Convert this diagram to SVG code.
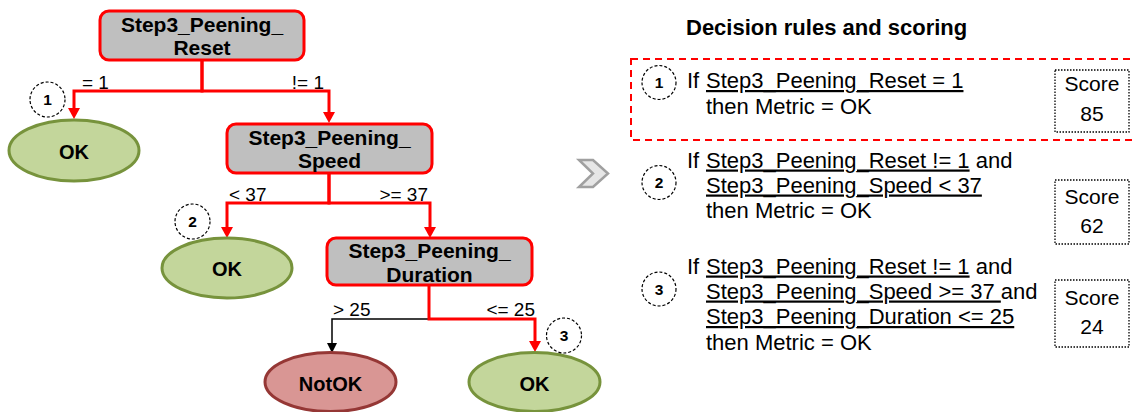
<svg xmlns="http://www.w3.org/2000/svg" width="1134" height="412" viewBox="0 0 1134 412">
  <style>
    .split { fill: #bfbfbf; stroke: #ff0000; stroke-width: 3; }
    .ok { fill: #c3d69b; stroke: #77933c; stroke-width: 3; }
    .notok { fill: #d99694; stroke: #953735; stroke-width: 3; }
    .nodetxt { font-family: "Liberation Sans", Arial, sans-serif; font-weight: bold; font-size: 21px; fill: #000; text-anchor: middle; }
    .leaftxt { font-family: "Liberation Sans", Arial, sans-serif; font-weight: bold; font-size: 20px; fill: #000; text-anchor: middle; }
    .lbl { font-family: "Liberation Sans", Arial, sans-serif; font-size: 19px; fill: #000; }
    .num { fill: #fff; stroke: #000; stroke-width: 1.2; stroke-dasharray: 3 2; }
    .numtxt { font-family: "Liberation Sans", Arial, sans-serif; font-weight: bold; font-size: 15.5px; fill: #000; text-anchor: middle; }
    .red { fill: none; stroke: #ff0000; stroke-width: 3; }
    .blk { fill: none; stroke: #000; stroke-width: 1.5; }
    .title { font-family: "Liberation Sans", Arial, sans-serif; font-weight: bold; font-size: 22px; fill: #000; }
    .rule { font-family: "Liberation Sans", Arial, sans-serif; font-size: 22px; fill: #000; }
    .u { text-decoration: underline; }
    .scorebox { fill: #fff; stroke: #000; stroke-width: 1.3; stroke-dasharray: 1.5 1.5; }
    .score { font-family: "Liberation Sans", Arial, sans-serif; font-size: 21px; fill: #000; text-anchor: middle; }
  </style>
  <defs>
    <marker id="arrRed" markerUnits="userSpaceOnUse" markerWidth="12" markerHeight="14" viewBox="0 -7 12 14" refX="0" refY="0" orient="auto">
      <path d="M0,-6 L11,0 L0,6 z" fill="#ff0000"/>
    </marker>
    <marker id="arrBlk" markerUnits="userSpaceOnUse" markerWidth="11" markerHeight="12" viewBox="0 -6 11 12" refX="0" refY="0" orient="auto">
      <path d="M0,-5 L10,0 L0,5 z" fill="#000"/>
    </marker>
  </defs>

  <!-- tree edges -->
  <g id="connectors">
    <path class="red" d="M202,60 V91 H74 V108" marker-end="url(#arrRed)"/>
    <path class="red" d="M202,60 V91 H329 V112" marker-end="url(#arrRed)"/>
    <path class="red" d="M329,173 V203 H227 V227" marker-end="url(#arrRed)"/>
    <path class="red" d="M329,173 V203 H430 V227" marker-end="url(#arrRed)"/>
    <path class="blk" d="M429,319 H332 V343" marker-end="url(#arrBlk)"/>
    <path class="red" d="M429,285 V319 H535 V341" marker-end="url(#arrRed)"/>
    <text class="lbl" x="82" y="88.5">= 1</text>
    <text class="lbl" x="324" y="88.5" text-anchor="end">!= 1</text>
    <text class="lbl" x="229" y="200.5">&lt; 37</text>
    <text class="lbl" x="428" y="200.5" text-anchor="end">&gt;= 37</text>
    <text class="lbl" x="333" y="316">&gt; 25</text>
    <text class="lbl" x="535" y="316" text-anchor="end">&lt;= 25</text>
  </g>

  <!-- split nodes -->
  <g id="node-reset">
    <rect class="split" x="100" y="11" width="204" height="49" rx="9"/>
    <text class="nodetxt" x="202" y="31.5">Step3_Peening_</text>
    <text class="nodetxt" x="202" y="55">Reset</text>
  </g>
  <g id="node-speed">
    <rect class="split" x="227" y="124" width="205" height="49" rx="9"/>
    <text class="nodetxt" x="329.5" y="144.5">Step3_Peening_</text>
    <text class="nodetxt" x="329.5" y="168">Speed</text>
  </g>
  <g id="node-duration">
    <rect class="split" x="327" y="238" width="205" height="47" rx="9"/>
    <text class="nodetxt" x="429.5" y="257.5">Step3_Peening_</text>
    <text class="nodetxt" x="429.5" y="281.5">Duration</text>
  </g>

  <!-- leaf nodes -->
  <g id="leaf-ok-1">
    <ellipse class="ok" cx="74" cy="150.5" rx="65" ry="30.5"/>
    <text class="leaftxt" x="74" y="158.5">OK</text>
  </g>
  <g id="leaf-ok-2">
    <ellipse class="ok" cx="227" cy="268" rx="65" ry="30"/>
    <text class="leaftxt" x="227" y="276">OK</text>
  </g>
  <g id="leaf-notok">
    <ellipse class="notok" cx="330.5" cy="382" rx="65.5" ry="29.5"/>
    <text class="leaftxt" x="330.5" y="390.5">NotOK</text>
  </g>
  <g id="leaf-ok-3">
    <ellipse class="ok" cx="534.5" cy="382" rx="65.5" ry="29.5"/>
    <text class="leaftxt" x="534.5" y="390.5">OK</text>
  </g>

  <!-- rule markers on the tree -->
  <g id="marker-1">
    <circle class="num" cx="47.5" cy="99.5" r="17.5"/>
    <text class="numtxt" x="47.5" y="105">1</text>
  </g>
  <g id="marker-2">
    <circle class="num" cx="192.5" cy="221.5" r="17.5"/>
    <text class="numtxt" x="192.5" y="227">2</text>
  </g>
  <g id="marker-3">
    <circle class="num" cx="564" cy="335.5" r="17.5"/>
    <text class="numtxt" x="564" y="341">3</text>
  </g>

  <!-- chevron -->
  <g id="chevron">
    <path d="M579,160 H593 L608,173.5 L593,187 H579 L593,173.5 Z" fill="#e6e6e6" stroke="#a0a0a0" stroke-width="2.5" stroke-linejoin="miter"/>
  </g>

  <!-- rules panel -->
  <g id="rules">
    <text class="title" x="686" y="35">Decision rules and scoring</text>

    <g id="rule-1">
      <rect x="631" y="59" width="510" height="81" fill="none" stroke="#ff0000" stroke-width="2" stroke-dasharray="7 5"/>
      <circle class="num" cx="659" cy="82.5" r="17"/>
      <text class="numtxt" x="659" y="88">1</text>
      <text class="rule" x="687" y="88">If</text>
      <text class="rule" x="706" y="88"><tspan class="u">Step3_Peening_Reset = 1</tspan></text>
      <text class="rule" x="706" y="113.5">then Metric = OK</text>
      <rect class="scorebox" x="1055" y="70" width="74" height="62"/>
      <text class="score" x="1092" y="91">Score</text>
      <text class="score" x="1092" y="121">85</text>
    </g>

    <g id="rule-2">
      <circle class="num" cx="659" cy="182.5" r="17"/>
      <text class="numtxt" x="659" y="188">2</text>
      <text class="rule" x="687" y="167.5">If</text>
      <text class="rule" x="706" y="167.5"><tspan class="u">Step3_Peening_Reset != 1</tspan> and</text>
      <text class="rule" x="706" y="192.5"><tspan class="u">Step3_Peening_Speed &lt; 37</tspan></text>
      <text class="rule" x="706" y="217.5">then Metric = OK</text>
      <rect class="scorebox" x="1055" y="180" width="74" height="64"/>
      <text class="score" x="1092" y="204">Score</text>
      <text class="score" x="1092" y="233">62</text>
    </g>

    <g id="rule-3">
      <circle class="num" cx="659" cy="289" r="17"/>
      <text class="numtxt" x="659" y="294.5">3</text>
      <text class="rule" x="687" y="273.5">If</text>
      <text class="rule" x="706" y="273.5"><tspan class="u">Step3_Peening_Reset != 1</tspan> and</text>
      <text class="rule" x="706" y="298.5"><tspan class="u">Step3_Peening_Speed &gt;= 37 </tspan>and</text>
      <text class="rule" x="706" y="324"><tspan class="u">Step3_Peening_Duration &lt;= 25</tspan></text>
      <text class="rule" x="706" y="349.5">then Metric = OK</text>
      <rect class="scorebox" x="1055" y="280" width="74" height="67"/>
      <text class="score" x="1092" y="305">Score</text>
      <text class="score" x="1092" y="333.5">24</text>
    </g>
  </g>
</svg>
